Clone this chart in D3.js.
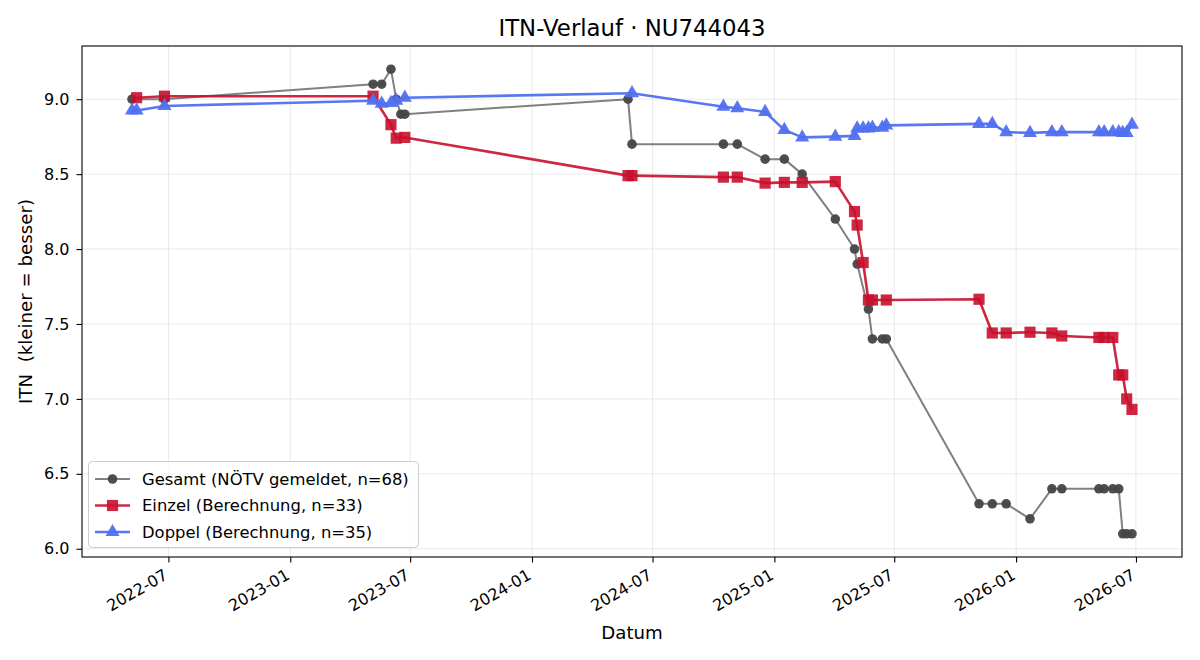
<!DOCTYPE html>
<html><head><meta charset="utf-8">
<script src="https://cdn.jsdelivr.net/npm/d3@7"></script>
<style>body{margin:0;background:#fff}svg{display:block;font-family:"DejaVu Sans",sans-serif}</style>
</head><body><svg id="c" width="1200" height="660"></svg>
<script>
const title = "ITN-Verlauf · NU744043";
const xLabel = "Datum";
const yLabel = "ITN  (kleiner = besser)";
const seriesNames = ["Gesamt (NÖTV gemeldet, n=68)", "Einzel (Berechnung, n=33)", "Doppel (Berechnung, n=35)"];

const gesamtDates = ["2022-05-07","2022-06-25","2023-05-06","2023-05-19","2023-06-02","2023-06-10","2023-06-17","2023-06-23","2024-05-25","2024-05-31","2024-10-16","2024-11-06","2024-12-18","2025-01-16","2025-02-12","2025-04-03","2025-05-02","2025-05-06","2025-05-23","2025-05-29","2025-06-13","2025-06-19","2025-11-06","2025-11-26","2025-12-17","2026-01-22","2026-02-24","2026-03-11","2026-05-06","2026-05-14","2026-05-27","2026-06-05","2026-06-11","2026-06-17","2026-06-25"];
const gesamtValues = [9.0,9.0,9.1,9.1,9.2,9.0,8.9,8.9,9.0,8.7,8.7,8.7,8.6,8.6,8.5,8.2,8.0,7.9,7.6,7.4,7.4,7.4,6.3,6.3,6.3,6.2,6.4,6.4,6.4,6.4,6.4,6.4,6.1,6.1,6.1];

const einzelDates = ["2022-05-14","2022-06-25","2023-05-06","2023-06-02","2023-06-10","2023-06-23","2024-05-25","2024-05-31","2024-10-16","2024-11-06","2024-12-18","2025-01-16","2025-02-12","2025-04-03","2025-05-02","2025-05-06","2025-05-15","2025-05-23","2025-05-29","2025-06-19","2025-11-06","2025-11-26","2025-12-17","2026-01-22","2026-02-24","2026-03-11","2026-05-06","2026-05-14","2026-05-27","2026-06-05","2026-06-11","2026-06-17","2026-06-25"];
const einzelValues = [9.01,9.02,9.02,8.83,8.74,8.745,8.49,8.49,8.48,8.48,8.44,8.445,8.445,8.45,8.25,8.16,7.91,7.66,7.66,7.66,7.665,7.44,7.44,7.445,7.44,7.42,7.41,7.41,7.41,7.16,7.16,7.0,6.93];

const doppelDates = ["2022-05-07","2022-05-14","2022-06-25","2023-05-06","2023-05-19","2023-06-02","2023-06-10","2023-06-23","2024-05-31","2024-10-16","2024-11-06","2024-12-18","2025-01-16","2025-02-12","2025-04-03","2025-05-02","2025-05-06","2025-05-15","2025-05-23","2025-05-29","2025-06-13","2025-06-19","2025-11-06","2025-11-26","2025-12-17","2026-01-22","2026-02-24","2026-03-11","2026-05-06","2026-05-14","2026-05-27","2026-06-05","2026-06-11","2026-06-17","2026-06-25"];
const doppelValues = [8.925,8.925,8.955,8.99,8.97,8.975,8.99,9.01,9.04,8.95,8.94,8.915,8.795,8.745,8.75,8.755,8.805,8.805,8.805,8.81,8.81,8.825,8.835,8.835,8.78,8.775,8.78,8.78,8.78,8.78,8.78,8.78,8.775,8.775,8.83];

const yTicks = [6.0,6.5,7.0,7.5,8.0,8.5,9.0];

const parse = d3.timeParse("%Y-%m-%d");
const mk = (ds, vs) => ds.map((d,i)=>({date:parse(d), v:vs[i]}));
const series = [
  {name:seriesNames[0], data:mk(gesamtDates,gesamtValues), line:"#808080", lw:2, mark:"#444", sym:d3.symbolCircle, size:72, lineOp:1, markOp:0.95},
  {name:seriesNames[1], data:mk(einzelDates,einzelValues), line:"#c8102e", lw:2.6, mark:"#c8102e", sym:d3.symbolSquare, size:125, lineOp:0.9, markOp:0.9},
  {name:seriesNames[2], data:mk(doppelDates,doppelValues), line:"#5070f0", lw:2.6, mark:"#5070f0", sym:d3.symbolTriangle, size:85, lineOp:0.95, markOp:0.95}
];

const L=82, R=1182, T=46, B=557;
const all = series.flatMap(s=>s.data);
const [d0,d1] = d3.extent(all, d=>d.date);
const pad = (d1-d0)*0.05;
const x = d3.scaleTime().domain([new Date(+d0-pad), new Date(+d1+pad)]).range([L,R]);
const [v0,v1] = d3.extent(all, d=>d.v);
const vp = (v1-v0)*0.05;
const y = d3.scaleLinear().domain([v0-vp, v1+vp]).range([B,T]);

const svg = d3.select("#c");
svg.append("rect").attr("width",1200).attr("height",660).attr("fill","#fff");

const xTicks = d3.timeMonth.every(6).range(x.domain()[0], x.domain()[1]);
// grid
const g = svg.append("g");
g.selectAll(".gx").data(xTicks).join("line").attr("x1",d=>x(d)).attr("x2",d=>x(d)).attr("y1",T).attr("y2",B).attr("stroke","#b0b0b0").attr("stroke-opacity",0.3).attr("stroke-width",0.9);
g.selectAll(".gy").data(yTicks).join("line").attr("x1",L).attr("x2",R).attr("y1",d=>y(d)).attr("y2",d=>y(d)).attr("stroke","#b0b0b0").attr("stroke-opacity",0.3).attr("stroke-width",0.9);

// series
series.forEach(s=>{
  svg.append("path").datum(s.data).attr("fill","none").attr("stroke",s.line).attr("stroke-width",s.lw).attr("stroke-opacity",s.lineOp).attr("stroke-linejoin","round")
    .attr("d", d3.line().x(d=>x(d.date)).y(d=>y(d.v)));
  svg.append("g").selectAll("path").data(s.data).join("path")
    .attr("transform",d=>`translate(${x(d.date)},${y(d.v)})`)
    .attr("d", d3.symbol().type(s.sym).size(s.size)())
    .attr("fill",s.mark).attr("fill-opacity",s.markOp);
});

// axes frame
svg.append("rect").attr("x",L).attr("y",T).attr("width",R-L).attr("height",B-T).attr("fill","none").attr("stroke","#000").attr("stroke-width",1.1);

const xa = svg.append("g").attr("transform",`translate(0,${B})`)
  .call(d3.axisBottom(x).tickValues(xTicks).tickFormat(d3.timeFormat("%Y-%m")).tickSize(5.5).tickPadding(4));
xa.select(".domain").remove();
xa.selectAll("text").attr("font-size",16).attr("font-family","DejaVu Sans").attr("fill","#000")
  .attr("text-anchor","end").attr("dy",null).attr("y",null)
  .attr("transform","translate(-6,11) rotate(-30)").attr("dy","0.74em");
xa.selectAll("line").attr("stroke","#000").attr("stroke-width",1.1);

const ya = svg.append("g").attr("transform",`translate(${L},0)`)
  .call(d3.axisLeft(y).tickValues(yTicks).tickFormat(d3.format(".1f")).tickSize(5.5).tickPadding(7));
ya.select(".domain").remove();
ya.selectAll("text").attr("font-size",16).attr("font-family","DejaVu Sans").attr("fill","#000");
ya.selectAll("line").attr("stroke","#000").attr("stroke-width",1.1);

svg.append("text").attr("x",(L+R)/2).attr("y",36).attr("text-anchor","middle").attr("font-size",22.8).text(title);
svg.append("text").attr("x",(L+R)/2).attr("y",639).attr("text-anchor","middle").attr("font-size",18.2).text(xLabel);
svg.append("text").attr("transform",`translate(32,${(T+B)/2}) rotate(-90)`).attr("text-anchor","middle").attr("font-size",18.2)
  .style("white-space","pre").attr("xml:space","preserve").text(yLabel);

// legend
const lg = svg.append("g");
lg.append("rect").attr("x",88.5).attr("y",461.5).attr("width",330).attr("height",86).attr("rx",4)
  .attr("fill","#fff").attr("fill-opacity",0.8).attr("stroke","#ccc").attr("stroke-width",1);
series.forEach((s,i)=>{
  const cy = 479 + i*26.5;
  lg.append("line").attr("x1",95).attr("x2",130).attr("y1",cy).attr("y2",cy).attr("stroke",s.line).attr("stroke-width",s.lw).attr("stroke-opacity",s.lineOp);
  lg.append("path").attr("transform",`translate(112.5,${cy})`).attr("d",d3.symbol().type(s.sym).size(s.size)()).attr("fill",s.mark).attr("fill-opacity",s.markOp);
  lg.append("text").attr("x",142).attr("y",cy).attr("dy","0.36em").attr("font-size",16.4).text(s.name);
});
</script></body></html>
